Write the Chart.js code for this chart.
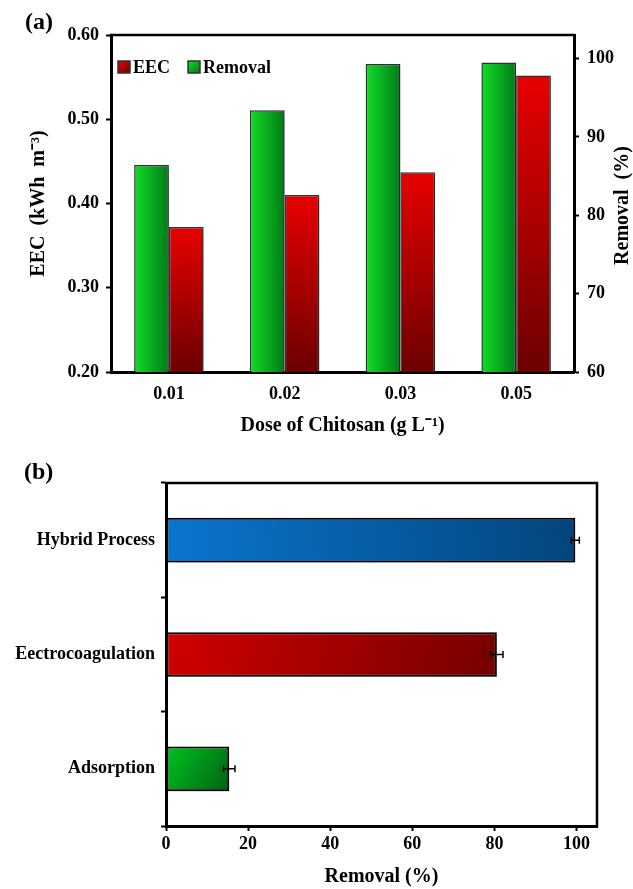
<!DOCTYPE html>
<html>
<head>
<meta charset="utf-8">
<script src="https://cdn.jsdelivr.net/npm/chart.js@4.4.0/dist/chart.umd.min.js"></script>
<style>
  html, body { margin: 0; padding: 0; background: #fff; }
  #wrap { position: relative; width: 633px; height: 889px; }
  .box { position: absolute; left: 0; width: 633px; }
  #boxA { top: 0; height: 445px; }
  #boxB { top: 445px; height: 444px; }
</style>
</head>
<body>
<div id="wrap">
  <div class="box" id="boxA"><canvas id="chartA" width="633" height="445"></canvas></div>
  <div class="box" id="boxB"><canvas id="chartB" width="633" height="444"></canvas></div>
</div>
<script>
// (a) EEC and removal against chitosan dose
const doses = ['0.01', '0.02', '0.03', '0.05'];
const removalA = [86.4, 93.4, 99.3, 99.5];
const eec = [0.372, 0.410, 0.437, 0.552];
const eecTicks = [0.2, 0.3, 0.4, 0.5, 0.6];
const removalATicks = [60, 70, 80, 90, 100];

// (b) removal by process, with error
const processes = ['Hybrid Process', 'Eectrocoagulation', 'Adsorption'];
const removalB = [99.7, 80.6, 15.4];
const removalErr = [1.0, 1.5, 1.4];
const removalBTicks = [0, 20, 40, 60, 80, 100];

const green = ['#12de26', '#007a16'];
const red = ['#e80000', '#6c0000'];
const processColors = [['#0a76d0', '#03457c'], ['#d00000', '#760000'], ['#00c41e', '#006214']];

const serif = "'Liberation Serif', 'Times New Roman', serif";
Chart.defaults.font.family = serif;
Chart.defaults.font.weight = 'bold';
Chart.defaults.font.size = 18;
Chart.defaults.color = '#000';

function greenFill(c) {
    const chart = c.chart;
    const xs = chart.scales.x;
    if (!chart.chartArea || !xs || c.dataIndex === undefined) return green[0];
    const cx = xs.getPixelForValue(c.dataIndex);
    const half = xs.width / doses.length * 0.6 / 2;
    const g = chart.ctx.createLinearGradient(cx - half, 0, cx, 0);
    g.addColorStop(0, green[0]);
    g.addColorStop(1, green[1]);
    return g;
}

function redFill(c) {
    const chart = c.chart;
    const ys = chart.scales.y;
    if (!chart.chartArea || !ys || c.raw === undefined) return red[0];
    const g = chart.ctx.createLinearGradient(0, ys.getPixelForValue(c.raw), 0, chart.chartArea.bottom);
    g.addColorStop(0, red[0]);
    g.addColorStop(1, red[1]);
    return g;
}

function processFill(c) {
    const chart = c.chart;
    const xs = chart.scales.x, ys = chart.scales.y;
    const cols = processColors[c.dataIndex || 0];
    if (!chart.chartArea || !xs || c.raw === undefined) return cols[0];
    const x0 = xs.getPixelForValue(0), x1 = xs.getPixelForValue(c.raw);
    const yc = ys.getPixelForValue(c.dataIndex);
    const g = c.dataIndex === 0
        ? chart.ctx.createLinearGradient(x0, yc + 22, x1, yc - 22)
        : chart.ctx.createLinearGradient(x0, yc - 22, x1, yc + 22);
    g.addColorStop(0, cols[0]);
    g.addColorStop(1, cols[1]);
    return g;
}

const shadow = {
    id: 'shadow',
    beforeDatasetsDraw(chart, args, opts) {
        const ctx = chart.ctx;
        ctx.save();
        ctx.shadowColor = opts.color || 'rgba(0,0,0,0.35)';
        ctx.shadowBlur = opts.blur || 5;
        ctx.shadowOffsetX = opts.dx || 2;
        ctx.shadowOffsetY = opts.dy || 3;
    },
    afterDatasetsDraw(chart) {
        chart.ctx.restore();
    }
};

const frame = {
    id: 'frame',
    afterDraw(chart, args, opts) {
        const {ctx, chartArea: a} = chart;
        ctx.save();
        ctx.strokeStyle = '#000';
        ctx.lineWidth = opts.width || 2;
        ctx.lineCap = 'square';
        ctx.beginPath();
        ctx.moveTo(a.left, a.top);
        ctx.lineTo(a.right, a.top);
        if (opts.right) ctx.lineTo(a.right, a.bottom);
        ctx.stroke();
        ctx.restore();
    }
};

// right hand title, read bottom to top like the left one
const sideTitle = {
    id: 'sideTitle',
    afterDraw(chart, args, opts) {
        if (!opts.text) return;
        const {ctx, chartArea: a} = chart;
        const s = chart.scales[opts.axis];
        ctx.save();
        ctx.font = 'bold 20px ' + serif;
        ctx.fillStyle = '#000';
        ctx.textAlign = 'center';
        ctx.textBaseline = 'middle';
        ctx.translate(s.right - opts.offset, (a.top + a.bottom) / 2 + 2);
        ctx.rotate(-Math.PI / 2);
        ctx.fillText(opts.text, 0, 0);
        ctx.restore();
    }
};

const boxLegend = {
    id: 'boxLegend',
    afterDraw(chart, args, opts) {
        const {ctx, chartArea: a} = chart;
        let x = a.left + opts.x;
        const y = a.top + opts.y;
        ctx.save();
        ctx.font = 'bold 18px ' + serif;
        ctx.textBaseline = 'middle';
        chart.data.datasets.slice().reverse().forEach(ds => {
            const g = ctx.createLinearGradient(x, y - 6, x + 12, y + 6);
            g.addColorStop(0, ds.legendColors[0]);
            g.addColorStop(1, ds.legendColors[1]);
            ctx.fillStyle = g;
            ctx.fillRect(x, y - 6, 12, 12);
            ctx.strokeStyle = '#333';
            ctx.lineWidth = 1.5;
            ctx.strokeRect(x, y - 6, 12, 12);
            ctx.fillStyle = '#000';
            ctx.fillText(ds.label, x + 15, y + 1);
            x += 15 + ctx.measureText(ds.label).width + opts.gap;
        });
        ctx.restore();
    }
};

const errorBars = {
    id: 'errorBars',
    afterDatasetsDraw(chart) {
        const {ctx} = chart;
        const xs = chart.scales.x, ys = chart.scales.y;
        ctx.save();
        ctx.strokeStyle = '#000';
        ctx.lineWidth = 1.5;
        removalB.forEach((v, i) => {
            const y = ys.getPixelForValue(i);
            const xa = xs.getPixelForValue(v - removalErr[i]);
            const xb = xs.getPixelForValue(v + removalErr[i]);
            ctx.beginPath();
            ctx.moveTo(xa, y); ctx.lineTo(xb, y);
            ctx.moveTo(xa, y - 3.5); ctx.lineTo(xa, y + 3.5);
            ctx.moveTo(xb, y - 3.5); ctx.lineTo(xb, y + 3.5);
            ctx.stroke();
        });
        ctx.restore();
    }
};

const tickGrid = {drawOnChartArea: false, tickLength: 5, tickWidth: 2, tickColor: '#000'};

new Chart(document.getElementById('chartA'), {
    type: 'bar',
    data: {
        labels: doses,
        datasets: [
            {label: 'Removal', data: removalA, yAxisID: 'y2', backgroundColor: greenFill, legendColors: green,
             borderColor: '#333', borderWidth: 1.5, borderSkipped: false, categoryPercentage: 0.6, barPercentage: 1},
            {label: 'EEC', data: eec, yAxisID: 'y', backgroundColor: redFill, legendColors: red,
             borderColor: '#333', borderWidth: 1.5, borderSkipped: false, categoryPercentage: 0.6, barPercentage: 1}
        ]
    },
    options: {
        responsive: false,
        animation: false,
        layout: {padding: {left: 25, right: 0, top: 0, bottom: 0}},
        plugins: {
            legend: {display: false},
            tooltip: {enabled: false},
            title: {display: true, text: '(a)', align: 'start', font: {size: 24, lineHeight: 1}, padding: {top: 11, bottom: 0}},
            frame: {width: 2.5},
            sideTitle: {text: 'Removal  (%)', axis: 'y2', offset: 10},
            boxLegend: {x: 7, y: 32, gap: 18},
            shadow: {color: 'rgba(0,0,0,0.3)', blur: 4, dx: 2, dy: 2}
        },
        scales: {
            x: {
                grid: {display: false, drawTicks: false},
                border: {width: 3, color: '#000'},
                ticks: {padding: 12},
                title: {display: true, text: 'Dose of Chitosan (g L⁻¹)', font: {size: 20}, padding: {top: 0, bottom: 7}},
                afterFit(s) { s.height = 73; }
            },
            y: {
                position: 'left',
                min: 0.2, max: 0.6,
                afterBuildTicks(s) { s.ticks = eecTicks.map(v => ({value: v})); },
                ticks: {padding: 7, callback: v => v.toFixed(2)},
                grid: tickGrid,
                border: {width: 3, color: '#000'},
                title: {display: true, text: 'EEC  (kWh  m⁻³)', font: {size: 20}, padding: {top: 2}},
                afterFit(s) { s.width = 86; }
            },
            y2: {
                position: 'right',
                min: 60, max: 103,
                afterBuildTicks(s) { s.ticks = removalATicks.map(v => ({value: v})); },
                ticks: {padding: 8},
                grid: tickGrid,
                border: {width: 3, color: '#000'},
                afterFit(s) { s.width = 59; }
            }
        }
    },
    plugins: [shadow, frame, sideTitle, boxLegend]
});

new Chart(document.getElementById('chartB'), {
    type: 'bar',
    data: {
        labels: processes,
        datasets: [
            {label: 'Removal (%)', data: removalB, backgroundColor: processFill, borderColor: '#000',
             borderWidth: 2, borderSkipped: false, categoryPercentage: 0.39, barPercentage: 1}
        ]
    },
    options: {
        indexAxis: 'y',
        responsive: false,
        animation: false,
        layout: {padding: {left: 12, right: 36, top: 0, bottom: 0}},
        plugins: {
            legend: {display: false},
            tooltip: {enabled: false},
            title: {display: true, text: '  (b)', align: 'start', font: {size: 24, lineHeight: 1}, padding: {top: 16, bottom: -2}},
            frame: {width: 2.5, right: true},
            shadow: {color: 'rgba(0,0,0,0.35)', blur: 6, dx: 3, dy: 4}
        },
        scales: {
            x: {
                min: 0, max: 105,
                afterBuildTicks(s) { s.ticks = removalBTicks.map(v => ({value: v})); },
                grid: tickGrid,
                border: {width: 3, color: '#000'},
                ticks: {padding: 3},
                title: {display: true, text: 'Removal (%)', font: {size: 20}, padding: {top: 0, bottom: 0}},
                afterFit(s) { s.height = 63; }
            },
            y: {
                grid: tickGrid,
                border: {width: 3, color: '#000'},
                ticks: {padding: 6, font: {size: 18}},
                afterFit(s) { s.width = 154; }
            }
        }
    },
    plugins: [shadow, errorBars, frame]
});
</script>
</body>
</html>
